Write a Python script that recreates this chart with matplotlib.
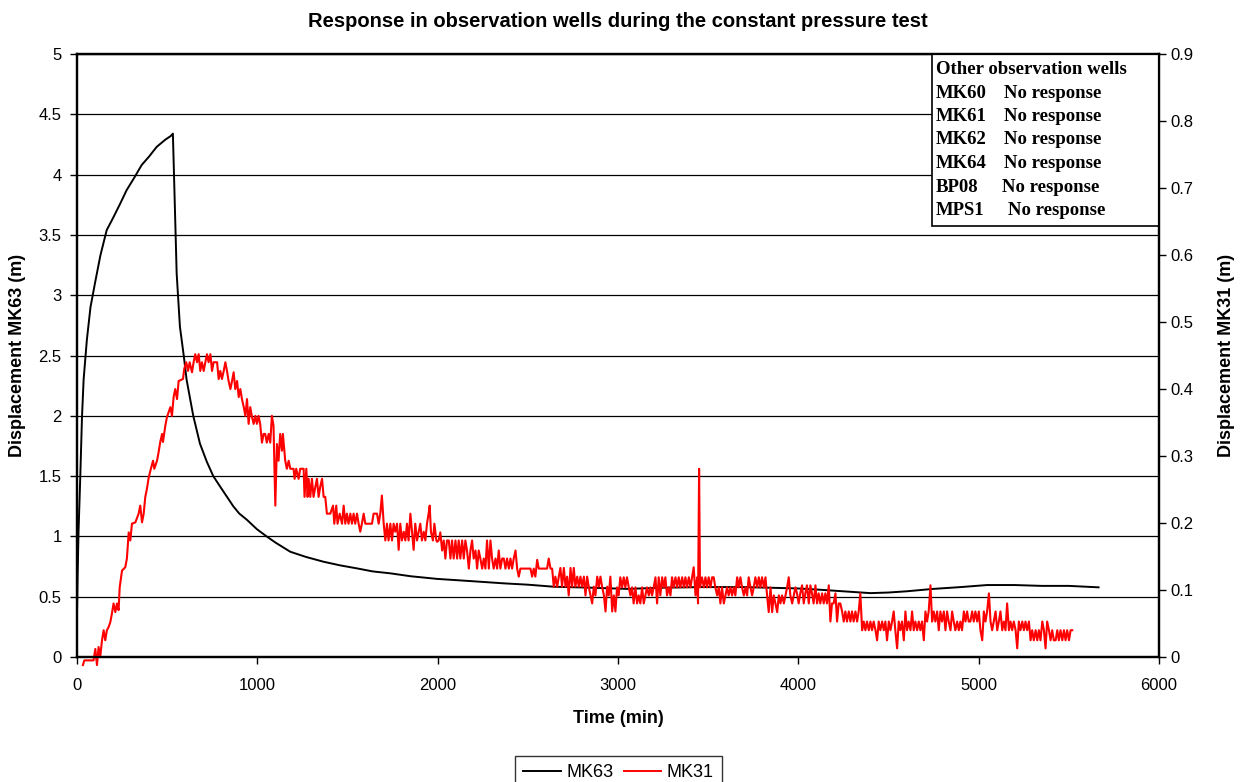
import matplotlib
matplotlib.use("Agg")
import matplotlib.pyplot as plt
from matplotlib.lines import Line2D
from matplotlib.patches import Rectangle

plt.rcParams['font.family'] = ['Liberation Sans', 'DejaVu Sans']

# MK63 displacement (m), left axis
mk63_t = [0, 4, 9, 18, 28, 37, 55, 75, 100, 130, 165, 200, 240, 275, 320, 359, 400, 442,
          490, 520, 532, 538, 553, 571, 593, 608, 645, 682, 720, 756, 800, 867, 900, 941,
          998, 1052, 1100, 1183, 1270, 1368, 1460, 1553, 1640, 1738, 1850, 1997, 2180,
          2367, 2500, 2644, 2850, 3051, 3250, 3455, 3700, 3993, 4100, 4200, 4300, 4400,
          4500, 4600, 4748, 4900, 5047, 5200, 5350, 5500, 5665]
mk63_v = [0.33, 0.70, 1.05, 1.47, 1.99, 2.30, 2.63, 2.90, 3.10, 3.33, 3.54, 3.64, 3.76, 3.87,
          3.98, 4.08, 4.15, 4.23, 4.29, 4.32, 4.34, 4.01, 3.18, 2.74, 2.49, 2.30, 2.00, 1.77,
          1.62, 1.50, 1.40, 1.25, 1.19, 1.14, 1.06, 1.00, 0.95, 0.873, 0.83, 0.79, 0.76,
          0.735, 0.71, 0.694, 0.67, 0.648, 0.63, 0.611, 0.60, 0.583, 0.575, 0.565, 0.575,
          0.58, 0.58, 0.569, 0.56, 0.55, 0.54, 0.53, 0.535, 0.545, 0.565, 0.58, 0.597, 0.597,
          0.59, 0.59, 0.578]

# MK31 displacement (m), right axis
mk31_t = [33, 41, 92, 102, 111, 120, 129, 139, 148, 157, 166, 176, 185, 194, 203, 213, 222,
          231, 237, 250, 268, 277, 287, 296, 305, 324, 342, 351, 361, 370, 379, 388, 398, 410,
          422, 429, 444, 453, 462, 472, 477, 490, 499, 518, 527, 536, 545, 555, 564, 588, 595,
          606, 616, 625, 638, 647, 656, 666, 675, 684, 693, 703, 712, 721, 730, 740, 749, 758,
          777, 786, 795, 804, 814, 823, 832, 841, 851, 860, 869, 878, 888, 897, 906, 915, 925,
          934, 943, 952, 961, 971, 980, 989,
          998, 1007, 1016, 1026, 1035, 1044, 1053, 1063, 1072, 1081, 1090, 1100, 1109, 1118,
          1127, 1137, 1142, 1150, 1155, 1164, 1174, 1183, 1201, 1207, 1216, 1229, 1238, 1257,
          1262, 1272, 1279, 1285, 1294, 1303, 1312, 1322, 1331, 1340, 1349, 1359, 1368, 1377,
          1386, 1405, 1420, 1427, 1438, 1445, 1457, 1470, 1479, 1488, 1497, 1506, 1516, 1525,
          1534, 1543, 1553, 1562, 1571, 1580, 1590, 1599, 1636, 1645, 1664, 1673, 1682, 1691,
          1701, 1710, 1719, 1728, 1738, 1747, 1756, 1765, 1775, 1784, 1793, 1802, 1812, 1821,
          1830, 1839, 1849, 1858, 1867, 1876, 1886, 1895, 1904, 1913, 1923, 1932, 1941, 1950,
          1956, 1963, 1974, 1982, 1993,
          1997, 2006, 2015, 2025, 2034, 2043, 2052, 2062, 2071, 2080, 2089, 2099, 2108, 2117,
          2126, 2136, 2145, 2154, 2163, 2173, 2182, 2191, 2200, 2210, 2219, 2228, 2237, 2247,
          2256, 2265, 2274, 2284, 2293, 2302, 2311, 2321, 2330, 2339, 2348, 2358, 2367, 2376,
          2385, 2395, 2404, 2413, 2422, 2432, 2441, 2450, 2459, 2515, 2524, 2533, 2542, 2552,
          2561, 2607, 2616, 2626, 2635, 2644, 2653, 2663, 2672, 2681, 2690, 2700, 2709, 2718,
          2727, 2737, 2746, 2755, 2764, 2774, 2783, 2792, 2801, 2811, 2820, 2829, 2838, 2848,
          2857, 2866, 2875, 2885, 2894, 2903, 2912, 2922, 2931, 2940, 2949, 2958, 2968, 2977,
          2986,
          2995, 3004, 3013, 3023, 3032, 3041, 3050, 3060, 3069, 3078, 3087, 3097, 3106, 3115,
          3124, 3134, 3143, 3152, 3161, 3171, 3180, 3189, 3198, 3208, 3217, 3226, 3235, 3245,
          3254, 3263, 3272, 3282, 3291, 3300, 3309, 3319, 3328, 3337, 3346, 3356, 3365, 3374,
          3383, 3393, 3402, 3411, 3420, 3430, 3439, 3444, 3450, 3455, 3466, 3476, 3485, 3494,
          3503, 3513, 3522, 3531, 3540, 3550, 3559, 3568, 3577, 3587, 3596, 3605, 3614, 3624,
          3633, 3642, 3651, 3661, 3670, 3679, 3688, 3698, 3707, 3716, 3725, 3735, 3744, 3753,
          3762, 3772, 3781, 3790, 3799, 3809, 3818, 3827, 3836, 3846, 3855, 3864, 3873, 3883,
          3892, 3901, 3910, 3920, 3929, 3938, 3947, 3956, 3966, 3975, 3984,
          3993, 4002, 4011, 4021, 4030, 4039, 4048, 4058, 4067, 4076, 4085, 4095, 4104, 4113,
          4122, 4132, 4141, 4150, 4159, 4169, 4178, 4187, 4196, 4206, 4215, 4224, 4233, 4243,
          4252, 4261, 4270, 4280, 4289, 4298, 4307, 4317, 4326, 4335, 4344, 4354, 4363, 4372,
          4381, 4391, 4400, 4409, 4418, 4428, 4437, 4446, 4455, 4465, 4474, 4483, 4492, 4502,
          4511, 4520, 4529, 4538, 4548, 4557, 4566, 4575, 4585, 4594, 4603, 4612, 4622, 4631,
          4640, 4649, 4659, 4668, 4677, 4686, 4696, 4705, 4714, 4723, 4733, 4742, 4751, 4760,
          4770, 4779, 4788, 4797, 4807, 4816, 4825, 4834, 4844, 4853, 4862, 4871, 4881, 4890,
          4899, 4908, 4918, 4927, 4936, 4945, 4954, 4964, 4973, 4982,
          4992, 5001, 5010, 5020, 5029, 5038, 5047, 5057, 5066, 5075, 5084, 5094, 5103, 5112,
          5121, 5131, 5140, 5149, 5158, 5168, 5177, 5186, 5195, 5205, 5214, 5223, 5232, 5242,
          5251, 5260, 5269, 5279, 5288, 5297, 5306, 5316, 5325, 5334, 5343, 5353, 5362, 5371,
          5380, 5390, 5399, 5408, 5417, 5427, 5436, 5445, 5454, 5464, 5473, 5482, 5491, 5501,
          5510, 5519]
mk31_v = [-0.012, -0.005, -0.005, 0.012, -0.012, 0.015, 0.0, 0.025, 0.040, 0.025, 0.040, 0.045,
          0.052, 0.065, 0.080, 0.067, 0.080, 0.070, 0.104, 0.129, 0.134, 0.147, 0.186, 0.174,
          0.199, 0.201, 0.214, 0.226, 0.201, 0.214, 0.239, 0.251, 0.268, 0.281, 0.293, 0.281,
          0.293, 0.306, 0.321, 0.333, 0.321, 0.345, 0.358, 0.373, 0.360, 0.388, 0.400, 0.385,
          0.412, 0.415, 0.430, 0.440, 0.427, 0.440, 0.425, 0.440, 0.452, 0.440, 0.452, 0.427,
          0.440, 0.427, 0.440, 0.452, 0.440, 0.452, 0.427, 0.440, 0.440, 0.415, 0.427, 0.415,
          0.427, 0.440, 0.427, 0.412, 0.400, 0.412, 0.425, 0.400, 0.412, 0.388, 0.400, 0.385,
          0.373, 0.360, 0.385, 0.348, 0.373, 0.358, 0.348, 0.360,
          0.348, 0.360, 0.348, 0.320, 0.333, 0.333, 0.320, 0.333, 0.320, 0.360, 0.345, 0.226,
          0.318, 0.293, 0.333, 0.308, 0.333, 0.308, 0.293, 0.281, 0.293, 0.281, 0.281, 0.266,
          0.281, 0.266, 0.281, 0.281, 0.239, 0.281, 0.239, 0.266, 0.239, 0.266, 0.239, 0.254,
          0.266, 0.239, 0.254, 0.266, 0.239, 0.239, 0.214, 0.214, 0.226, 0.199, 0.226, 0.199,
          0.214, 0.199, 0.226, 0.199, 0.214, 0.199, 0.214, 0.199, 0.214, 0.199, 0.214, 0.199,
          0.187, 0.199, 0.214, 0.199, 0.199, 0.214, 0.214, 0.199, 0.214, 0.241, 0.199, 0.174,
          0.199, 0.174, 0.199, 0.174, 0.199, 0.187, 0.199, 0.160, 0.199, 0.174, 0.187, 0.174,
          0.199, 0.174, 0.214, 0.187, 0.160, 0.199, 0.174, 0.187, 0.199, 0.174, 0.187, 0.174,
          0.199, 0.214, 0.226, 0.187, 0.174, 0.199, 0.174,
          0.172, 0.174, 0.186, 0.159, 0.174, 0.147, 0.174, 0.174, 0.147, 0.174, 0.147, 0.174,
          0.147, 0.174, 0.147, 0.174, 0.147, 0.174, 0.159, 0.132, 0.159, 0.174, 0.147, 0.159,
          0.132, 0.159, 0.147, 0.132, 0.147, 0.132, 0.174, 0.132, 0.174, 0.147, 0.132, 0.147,
          0.132, 0.159, 0.132, 0.147, 0.147, 0.132, 0.147, 0.132, 0.147, 0.132, 0.147, 0.159,
          0.132, 0.120, 0.132, 0.132, 0.120, 0.132, 0.120, 0.145, 0.132, 0.132, 0.147, 0.132,
          0.132, 0.105, 0.120, 0.105, 0.120, 0.133, 0.105, 0.133, 0.105, 0.120, 0.092, 0.133,
          0.105, 0.133, 0.105, 0.120, 0.105, 0.120, 0.105, 0.120, 0.092, 0.120, 0.105, 0.092,
          0.080, 0.105, 0.092, 0.120, 0.105, 0.120, 0.105, 0.092, 0.068, 0.105, 0.092, 0.120,
          0.068, 0.092, 0.068,
          0.104, 0.092, 0.119, 0.104, 0.119, 0.104, 0.119, 0.104, 0.092, 0.104, 0.080, 0.104,
          0.080, 0.092, 0.080, 0.104, 0.080, 0.092, 0.104, 0.092, 0.104, 0.092, 0.104, 0.119,
          0.080, 0.119, 0.092, 0.119, 0.104, 0.119, 0.092, 0.104, 0.092, 0.119, 0.104, 0.119,
          0.104, 0.119, 0.104, 0.119, 0.104, 0.119, 0.104, 0.119, 0.104, 0.119, 0.134, 0.092,
          0.119, 0.080, 0.281, 0.104, 0.119, 0.104, 0.119, 0.104, 0.119, 0.104, 0.119, 0.119,
          0.104, 0.092, 0.104, 0.080, 0.104, 0.080, 0.092, 0.104, 0.092, 0.104, 0.092, 0.104,
          0.092, 0.119, 0.104, 0.119, 0.104, 0.092, 0.104, 0.092, 0.119, 0.104, 0.092, 0.104,
          0.119, 0.104, 0.119, 0.104, 0.119, 0.104, 0.119, 0.092, 0.067, 0.104, 0.067, 0.092,
          0.080, 0.067, 0.092, 0.080, 0.092, 0.080, 0.092, 0.104, 0.119, 0.092, 0.080, 0.092,
          0.104,
          0.095, 0.080, 0.095, 0.107, 0.080, 0.095, 0.107, 0.080, 0.107, 0.095, 0.080, 0.107,
          0.080, 0.095, 0.080, 0.095, 0.080, 0.095, 0.080, 0.107, 0.053, 0.080, 0.080, 0.095,
          0.053, 0.080, 0.080, 0.068, 0.053, 0.068, 0.053, 0.068, 0.053, 0.068, 0.053, 0.068,
          0.053, 0.068, 0.095, 0.040, 0.053, 0.040, 0.053, 0.040, 0.053, 0.040, 0.053, 0.040,
          0.025, 0.053, 0.040, 0.053, 0.040, 0.053, 0.025, 0.053, 0.040, 0.053, 0.068, 0.040,
          0.013, 0.053, 0.040, 0.053, 0.025, 0.068, 0.040, 0.053, 0.040, 0.068, 0.040, 0.053,
          0.040, 0.053, 0.040, 0.053, 0.025, 0.068, 0.053, 0.068, 0.107, 0.053, 0.068, 0.053,
          0.068, 0.040, 0.068, 0.053, 0.068, 0.040, 0.068, 0.053, 0.040, 0.068, 0.053, 0.040,
          0.053, 0.040, 0.053, 0.040, 0.068, 0.053, 0.068, 0.053, 0.053, 0.068, 0.053, 0.068,
          0.053, 0.068, 0.040, 0.025, 0.068, 0.053, 0.068, 0.095, 0.053, 0.040, 0.053, 0.068,
          0.040, 0.053, 0.068, 0.040, 0.053, 0.040, 0.080, 0.040, 0.053, 0.040, 0.053, 0.040,
          0.013, 0.053, 0.040, 0.053, 0.040, 0.053, 0.040, 0.053, 0.025, 0.040, 0.025, 0.040,
          0.025, 0.040, 0.025, 0.053, 0.040, 0.013, 0.053, 0.040, 0.025, 0.040, 0.025, 0.025,
          0.040, 0.025, 0.040, 0.025, 0.040, 0.025, 0.040, 0.025, 0.040, 0.040]

other_wells = ['MK60', 'MK61', 'MK62', 'MK64', 'BP08', 'MPS1']

fig = plt.figure(figsize=(12.45, 7.82), dpi=100)
ax = fig.add_axes([0.0618, 0.1598, 0.8691, 0.7711])
ax2 = ax.twinx()

ax.plot(mk63_t, mk63_v, color='black', lw=1.4)
ax2.plot(mk31_t, mk31_v, color='red', lw=1.5, clip_on=False)

ax.set_xlim(0, 6000)
ax.set_ylim(0, 5)
ax2.set_ylim(0, 0.9)
ax.set_xticks(range(0, 6001, 1000))
ax.set_yticks([i * 0.5 for i in range(11)])
ax.set_yticklabels(['0', '0.5', '1', '1.5', '2', '2.5', '3', '3.5', '4', '4.5', '5'])
ax2.set_yticks([i * 0.1 for i in range(10)])
ax2.set_yticklabels(['0', '0.1', '0.2', '0.3', '0.4', '0.5', '0.6', '0.7', '0.8', '0.9'])

ax.grid(axis='y', color='black', lw=0.9)
ax.set_axisbelow(True)
for a in (ax, ax2):
    for s in a.spines.values():
        s.set_linewidth(1.6)
    a.tick_params(labelsize=12, length=5, width=1, direction='out', pad=6)
ax.tick_params(axis='x', pad=10)
ax2.tick_params(axis='y', pad=3)

ax.set_xlabel('Time (min)', fontsize=13, fontweight='bold', labelpad=12)
ax.set_ylabel('Displacement MK63 (m)', fontsize=13, fontweight='bold', labelpad=9)
ax2.set_ylabel('Displacement MK31 (m)', fontsize=13, fontweight='bold', labelpad=18)
ax2.yaxis.set_label_position('right')
ax2.yaxis.label.set_rotation(90)
fig.suptitle('Response in observation wells during the constant pressure test',
             x=0.4965, y=0.985, fontsize=14.5, fontweight='bold')

# box listing the wells without response
ax.add_patch(Rectangle((0.790, 0.7148), 0.210, 0.2852, transform=ax.transAxes,
                       facecolor='white', edgecolor='black', lw=1.2, zorder=5, clip_on=False))
serif = dict(family=['Liberation Serif', 'DejaVu Serif'], fontsize=13.5, fontweight='bold',
             va='center', ha='left', zorder=6)
fig.text(936 / 1245, 1 - 69 / 782, 'Other observation wells', **serif)
resp_x = [1004, 1004, 1004, 1004, 1002, 1008]
for i, w in enumerate(other_wells):
    y = 1 - (93 + i * 23.5) / 782
    fig.text(936 / 1245, y, w, **serif)
    fig.text(resp_x[i] / 1245, y, 'No response', **serif)

handles = [Line2D([], [], color='black', lw=1.4), Line2D([], [], color='red', lw=1.4)]
leg = fig.legend(handles, ['MK63', 'MK31'], loc='center', bbox_to_anchor=(0.4968, 0.012),
                 ncol=2, fontsize=13, frameon=True, fancybox=False, edgecolor='black',
                 handlelength=2.1, handletextpad=0.3, columnspacing=0.55, borderpad=0.45,
                 borderaxespad=0)
leg.get_frame().set_linewidth(1.0)

fig.savefig('out.png', dpi=100)
